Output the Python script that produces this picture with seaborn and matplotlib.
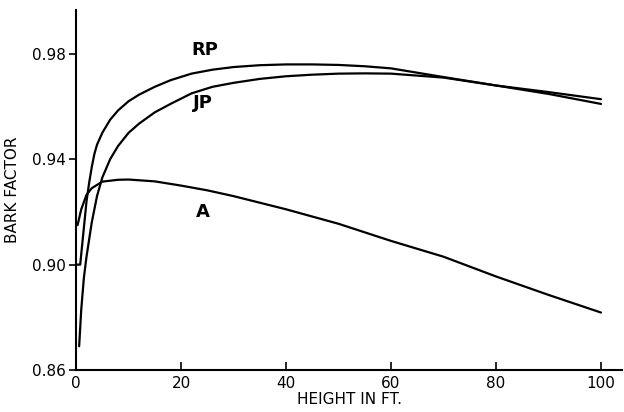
import numpy as np
import pandas as pd
import seaborn as sns
import matplotlib.pyplot as plt

# --- valeurs ---
rp_height = [0, 0.8, 1.5, 2, 2.5, 3, 3.5, 4, 5, 6.5, 8, 10, 12, 15, 18, 22, 26, 30, 35, 40, 45, 50,
             55, 60, 70, 80, 90, 100]
rp_factor = [0.900, 0.900, 0.914, 0.924, 0.931, 0.937, 0.942, 0.9455, 0.950, 0.955, 0.9585, 0.962,
             0.9645, 0.9675, 0.970, 0.9725, 0.974, 0.975, 0.9757, 0.976, 0.976, 0.9758, 0.9753,
             0.9745, 0.9712, 0.968, 0.9655, 0.9628]

jp_height = [0.6, 1, 1.5, 2, 3, 4, 5, 6.5, 8, 10, 12, 15, 18, 22, 26, 30, 35, 40, 45, 50, 55, 60,
             70, 80, 90, 100]
jp_factor = [0.869, 0.883, 0.895, 0.903, 0.916, 0.926, 0.933, 0.940, 0.945, 0.950, 0.9535, 0.9578,
             0.961, 0.965, 0.9675, 0.969, 0.9705, 0.9715, 0.9721, 0.9725, 0.9726, 0.9725, 0.971,
             0.968, 0.9648, 0.961]

a_height = [0.3, 1, 2, 3, 5, 8, 10, 15, 20, 25, 30, 40, 50, 60, 70, 80, 90, 100]
a_factor = [0.915, 0.921, 0.9265, 0.929, 0.9315, 0.9322, 0.9323, 0.9316, 0.930, 0.9282, 0.926,
            0.921, 0.9155, 0.909, 0.903, 0.8955, 0.8885, 0.8818]

x_ticks = [0, 20, 40, 60, 80, 100]
y_ticks = [0.86, 0.90, 0.94, 0.98]

df = pd.concat([
    pd.DataFrame({'height': rp_height, 'factor': rp_factor, 'species': 'RP'}),
    pd.DataFrame({'height': jp_height, 'factor': jp_factor, 'species': 'JP'}),
    pd.DataFrame({'height': a_height, 'factor': a_factor, 'species': 'A'}),
])

sns.set_style("ticks")
plt.rcParams['font.family'] = ['DejaVu Sans']
plt.rcParams.update({'text.color': 'black', 'axes.labelcolor': 'black',
                     'xtick.color': 'black', 'ytick.color': 'black',
                     'axes.edgecolor': 'black'})

fig = plt.figure(figsize=(6.24, 4.12), dpi=100)
ax = fig.add_axes([0.1218, 0.102, 0.875, 0.874])

sns.lineplot(data=df, x='height', y='factor', hue='species', units='species', estimator=None,
             palette={'RP': 'black', 'JP': 'black', 'A': 'black'}, linewidth=1.6,
             legend=False, ax=ax)

# étiquettes des courbes
ax.text(24.5, 0.9815, 'RP', fontsize=13, fontweight='bold', ha='center', va='center')
ax.text(24.2, 0.9615, 'JP', fontsize=13, fontweight='bold', ha='center', va='center')
ax.text(24.2, 0.9200, 'A', fontsize=13, fontweight='bold', ha='center', va='center')

ax.set_xlim(0, 104)
ax.set_ylim(0.86, 0.9967)
ax.set_xticks(x_ticks)
ax.set_yticks(y_ticks)
ax.set_yticklabels([f"{v:.2f}" for v in y_ticks], fontsize=11)
ax.set_xticklabels([str(v) for v in x_ticks], fontsize=11)
ax.tick_params(axis='x', direction='in', length=6, width=1.2, pad=4)
ax.tick_params(axis='y', direction='out', length=5, width=1.2, pad=2)
ax.set_xlabel('HEIGHT IN FT.', fontsize=11, labelpad=1)
ax.set_ylabel('BARK FACTOR', fontsize=11, labelpad=9)
sns.despine(ax=ax)
for s in ['left', 'bottom']:
    ax.spines[s].set_linewidth(1.5)

fig.savefig('out.png', dpi=100)
